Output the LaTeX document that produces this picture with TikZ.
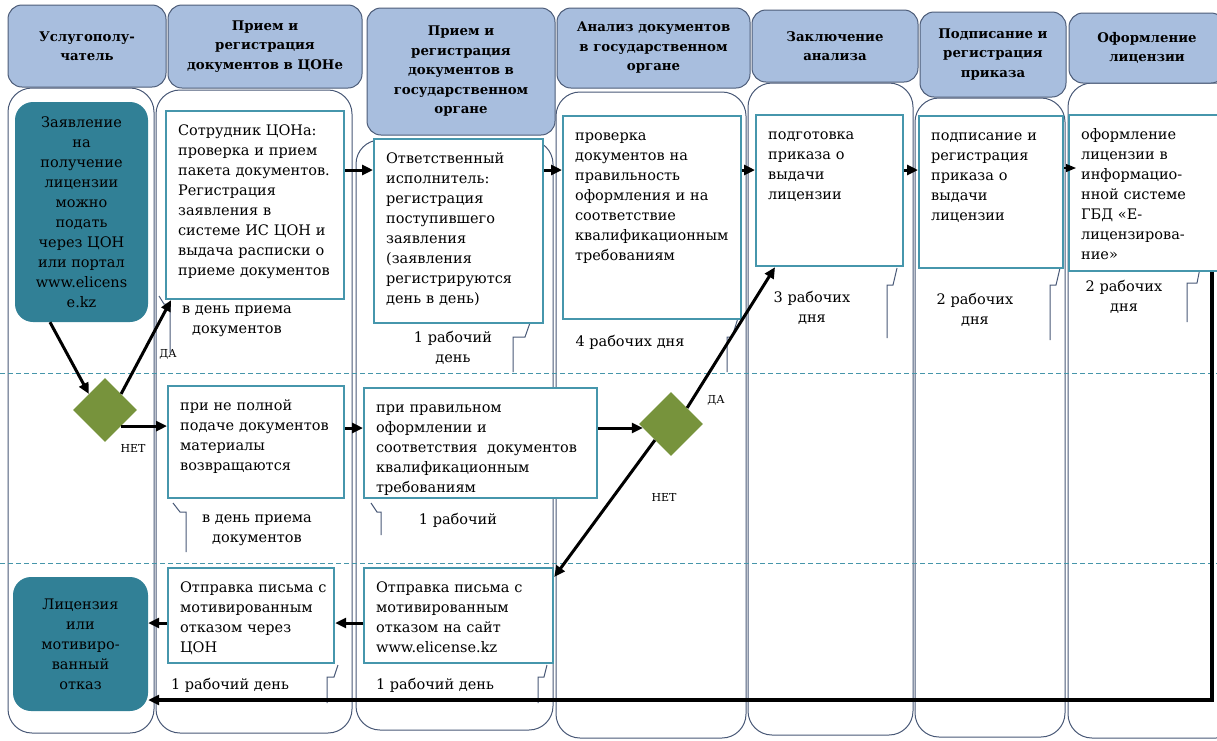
\documentclass[tikz,border=0pt]{standalone}
\usepackage{fontspec}
\setmainfont{DejaVu Serif}
\usetikzlibrary{shapes.geometric,arrows.meta}

\definecolor{headfill}{RGB}{168,190,222}
\definecolor{headline}{RGB}{76,92,120}
\definecolor{laneline}{RGB}{72,88,118}
\definecolor{boxline}{RGB}{70,150,172}
\definecolor{tealfill}{RGB}{49,128,150}
\definecolor{gatefill}{RGB}{119,147,60}
\definecolor{sepline}{RGB}{70,150,170}

\tikzset{
  lanehead/.style={draw=headline, fill=headfill, rounded corners=14pt, line width=1pt,
    align=center, inner sep=0pt, font=\bfseries\fontsize{13.3}{19.5}\selectfont},
  lanebox/.style={draw=laneline, rounded corners=24pt, line width=1pt},
  procbox/.style={draw=boxline, line width=2.2pt, fill=white, anchor=north west, align=left,
    inner xsep=12pt, inner ysep=12pt, text height=12pt, font=\fontsize{14.5}{20}\selectfont},
  tealbox/.style={fill=tealfill, rounded corners=18pt, align=center, inner sep=0pt,
    font=\fontsize{14.5}{20}\selectfont},
  gate/.style={diamond, fill=gatefill, minimum size=64pt, inner sep=0pt},
  flow/.style={line width=3pt, -{Triangle[length=11pt,width=10pt]}},
  thinflow/.style={line width=1.2pt, -{Triangle[length=10pt,width=8pt]}},
  dayslabel/.style={align=center, font=\fontsize{14.5}{20.5}\selectfont},
  yesno/.style={font=\fontsize{11}{12}\selectfont, inner sep=1pt},
  calloutline/.style={draw=laneline, line width=1pt},
  laneseparator/.style={draw=sepline, dash pattern=on 5pt off 3pt, line width=1pt},
}

\begin{document}
\begin{tikzpicture}[x=1pt, y=-1pt]
    \useasboundingbox (0,0) rectangle (1217,740);

    % swimlanes
    \draw[lanebox] (8,88) rectangle (154,733);
    \draw[lanebox] (156,90) rectangle (352,733);
    \draw[lanebox] (356,140) rectangle (553,730);
    \draw[lanebox] (556,92) rectangle (746,738);
    \draw[lanebox] (748,83) rectangle (913,735);
    \draw[lanebox] (915,98) rectangle (1065,737);
    \draw[lanebox] (1068,83) rectangle (1240,738);

    \draw[laneseparator] (0,373) -- (1217,373);
    \draw[laneseparator] (0,563) -- (1217,563);

    % headers
    \node[lanehead, minimum width=158pt, minimum height=82pt] (h1) at (87,46) {Услугополу-\\чатель};
    \node[lanehead, minimum width=194pt, minimum height=83pt] (h2) at (265,46.5) {Прием и\\регистрация\\документов в ЦОНе};
    \node[lanehead, minimum width=188pt, minimum height=127pt] (h3) at (461,71.5) {Прием и\\регистрация\\документов в\\государственном\\органе};
    \node[lanehead, minimum width=193pt, minimum height=80pt] (h4) at (653.5,48) {Анализ документов\\в государственном\\органе};
    \node[lanehead, minimum width=166pt, minimum height=72pt] (h5) at (835,46) {Заключение\\анализа};
    \node[lanehead, minimum width=146pt, minimum height=85pt] (h6) at (993,54.5) {Подписание и\\регистрация\\приказа};
    \node[lanehead, minimum width=156pt, minimum height=70pt] (h7) at (1147,48) {Оформление\\лицензии};

    % callout lines
    \draw[calloutline] (159,296) -- (164,304) -- (170,304) -- (170,353);
    \draw[calloutline] (531,320) -- (525,337) -- (513,337) -- (513,372);
    \draw[calloutline] (738,318) -- (732,337) -- (727,337) -- (727,372);
    \draw[calloutline] (897,268) -- (893,285) -- (887,285) -- (887,338);
    \draw[calloutline] (1060,268) -- (1056,285) -- (1050,285) -- (1050,340);
    \draw[calloutline] (1200,268) -- (1197,283) -- (1187,283) -- (1187,322);
    \draw[calloutline] (173,503) -- (180,512) -- (186,512) -- (186,552);
    \draw[calloutline] (371,503) -- (377,512) -- (381,512) -- (381,535);
    \draw[calloutline] (338,665) -- (334,677) -- (327,677) -- (327,703);
    \draw[calloutline] (547,665) -- (544,677) -- (538,677) -- (538,703);

    % top row
    \node[tealbox, minimum width=133pt, minimum height=220pt] (app) at (81.5,212) {Заявление\\на\\получение\\лицензии\\можно\\подать\\через ЦОН\\или портал\\www.elicens\\e.kz};
    \node[procbox, text width=154pt, text depth=152pt] (con) at (165,110) {Сотрудник ЦОНа:\\проверка и прием\\пакета документов.\\Регистрация\\заявления в\\системе ИС ЦОН и\\выдача расписки о\\приеме документов};
    \node[procbox, text width=145pt, text depth=148pt] (gov) at (373,138) {Ответственный\\исполнитель:\\регистрация\\поступившего\\заявления\\(заявления\\регистрируются\\день в день)};
    \node[procbox, text width=154pt, text depth=167pt] (anal) at (562,115) {проверка\\документов на\\правильность\\оформления и на\\соответствие\\квалификационным\\требованиям};
    \node[procbox, text width=123pt, text depth=115pt] (concl) at (755,114) {подготовка\\приказа о\\выдачи\\лицензии};
    \node[procbox, text width=120pt, text depth=116pt] (sign) at (918,115) {подписание и\\регистрация\\приказа о\\выдачи\\лицензии};
    \node[procbox, text width=131pt, text depth=120pt] (lic) at (1068,114) {оформление\\лицензии в\\информацио-\\нной системе\\ГБД «Е-\\лицензирова-\\ние»};

    % middle row
    \node[gate] (d1) at (105,410) {};
    \node[procbox, text width=152pt, text depth=76pt] (nepol) at (167,385) {при не полной\\подаче документов\\материалы\\возвращаются};
    \node[procbox, text width=209pt, text depth=74pt] (prav) at (363,387) {при правильном\\оформлении и\\соответствия~~документов\\квалификационным\\требованиям};
    \node[gate] (d2) at (671,424) {};

    % bottom row
    \node[tealbox, minimum width=135pt, minimum height=134pt] (licz) at (80.5,644) {Лицензия\\или\\мотивиро-\\ванный\\отказ};
    \node[procbox, text width=142pt, text depth=59pt] (send1) at (167,567) {Отправка~письма~с\\мотивированным\\отказом через\\ЦОН};
    \node[procbox, text width=165pt, text depth=59pt] (send2) at (363,567) {Отправка письма с\\мотивированным\\отказом на сайт\\www.elicense.kz};

    % terms
    \node[dayslabel] (t1) at (237,321) {в день приема\\документов};
    \node[dayslabel] (t2) at (453,348) {1 рабочий\\день};
    \node[dayslabel] (t3) at (630,342) {4 рабочих дня};
    \node[dayslabel] (t4) at (812,308) {3 рабочих\\дня};
    \node[dayslabel] (t5) at (975,310) {2 рабочих\\дня};
    \node[dayslabel] (t6) at (1124,297) {2 рабочих\\дня};
    \node[dayslabel] (t7) at (257,530) {в день приема\\документов};
    \node[dayslabel] (t8) at (458,520) {1 рабочий};
    \node[dayslabel] (t9) at (230,685) {1 рабочий день};
    \node[dayslabel] (t10) at (435,685) {1 рабочий день};

    \node[yesno] (da1) at (168,354) {ДА};
    \node[yesno] (net1) at (133,448) {НЕТ};
    \node[yesno] (da2) at (716,400) {ДА};
    \node[yesno] (net2) at (664,497) {НЕТ};

    % connectors
    \draw[flow] (app.south -| 50,0) -- (d1.north west);
    \draw[flow] (d1.north east) -- ([xshift=6pt]con.south west);
    \draw[flow] (d1.south east) -- (nepol.west |- d1.south east);
    \draw[flow] (con.east |- 0,170) -- (gov.west |- 0,170);
    \draw[flow] (gov.east |- 0,170) -- (anal.west |- 0,170);
    \draw[flow] (anal.east |- 0,170) -- (concl.west |- 0,170);
    \draw[flow] (concl.east |- 0,170) -- (sign.west |- 0,170);
    \draw[thinflow] (sign.east |- 0,168) -- ([xshift=8pt]lic.west |- 0,168);
    \draw[flow] (nepol.east |- 0,428) -- (prav.west |- 0,428);
    \draw[flow] (prav.east |- 0,428) -- ([xshift=4pt]d2.west |- 0,428);
    \draw[flow] (d2.north east) -- ([xshift=20pt]concl.south west);
    \draw[flow] (d2.south west) -- ([yshift=-10pt]send2.north east);
    \draw[flow] (send2.west |- 0,623) -- (send1.east |- 0,623);
    \draw[flow] (send1.west |- 0,623) -- (licz.east |- 0,623);
    \draw[flow, line width=3.5pt] (lic.south -| 1212,0) |- (licz.east |- 0,700);
\end{tikzpicture}
\end{document}
